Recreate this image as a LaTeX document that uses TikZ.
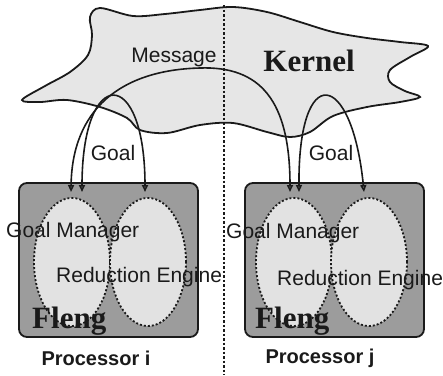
\documentclass[tikz,border=0pt]{standalone}
\usepackage{fontspec}
\setmainfont{Liberation Sans}
\newfontfamily\serifbf{Liberation Serif}
\usetikzlibrary{shapes.geometric, arrows.meta, positioning}
\definecolor{tinta}{HTML}{1A1A1A}
\definecolor{nube}{HTML}{E6E6E6}
\definecolor{caja}{HTML}{9C9C9C}
\definecolor{ovalo}{HTML}{E2E2E2}
\tikzset{
  proc/.style={rectangle, rounded corners=8pt, draw=tinta, line width=1.8pt, fill=caja,
               minimum width=179pt, minimum height=154pt, inner sep=0pt},
  modulo/.style={ellipse, draw=tinta, line width=1.8pt, dash pattern=on 2pt off 2pt,
                 fill=ovalo, minimum width=76pt, minimum height=128pt, inner sep=0pt},
  nubek/.style={draw=tinta, line width=1.8pt, fill=nube},
  sep/.style={draw=tinta, line width=1.5pt, dash pattern=on 2.5pt off 2pt},
  flecha/.style={draw=tinta, line width=1.6pt,
                 {Triangle[open,length=7pt,width=6pt]}-{Triangle[open,length=7pt,width=6pt]}},
  txt/.style={inner sep=0pt, text=tinta, font=\fontsize{21}{25}\selectfont},
  txtb/.style={inner sep=0pt, text=tinta, font=\fontsize{20}{24}\selectfont\bfseries},
  grande/.style={inner sep=0pt, text=tinta, font=\serifbf\bfseries\fontsize{31}{36}\selectfont}
}
\begin{document}
\begin{tikzpicture}[x=1pt, y=-1pt]
  \useasboundingbox (0,0) rectangle (443,375);
  % kernel
  \draw[nubek] plot[smooth cycle, tension=0.55] coordinates {
    (22,100) (45,86) (70,72) (88,55) (92,35) (90,17) (100,8) (133,16) (165,14)
    (200,10) (233,7) (267,12) (300,22) (333,32) (367,38) (400,42) (428,46)
    (410,57) (390,70) (390,82) (405,91) (420,97) (400,102) (367,107) (333,116)
    (310,132) (290,137) (267,132) (233,123) (200,125) (167,133) (140,130)
    (127,118) (100,107) (67,100) (40,102)};
  \draw[sep] (224,5) -- (224,375);
  % processors
  \node (pi) [proc] at (108.5,260) {};
  \node (pj) [proc] at (334.5,260) {};
  \node (gmi) [modulo] at (72,262) {};
  \node (rei) [modulo] at (148,262) {};
  \node (gmj) [modulo] at (294,262) {};
  \node (rej) [modulo] at (369,262) {};
  \coordinate (mi) at (71,192);
  \coordinate (gi) at (82,192);
  \coordinate (ri) at (145,192);
  \coordinate (mj) at (290,192);
  \coordinate (gj) at (299,192);
  \coordinate (rj) at (364,192);
  \draw[flecha] (mi) .. controls (72,110) and (120,70) .. (200,68)
                     .. controls (260,66) and (290,100) .. (mj);
  \draw[flecha] (gi) .. controls (82,65) and (145,65) .. (ri);
  \draw[flecha] (gj) .. controls (298,60) and (352,70) .. (rj);
  % labels
  \node (msg) [txt] at (174,57) {Message};
  \node (ker) [grande] at (309,61) {Kernel};
  \node (goi) [txt] at (113,153) {Goal};
  \node (goj) [txt] at (331,153) {Goal};
  \node (lgmi) [txt, anchor=west] at (6,232) {Goal Manager};
  \node (lgmj) [txt, anchor=west] at (226,233) {Goal Manager};
  \node (lrei) [txt, anchor=west] at (56,277) {Reduction Engine};
  \node (lrej) [txt, anchor=west] at (277,280) {Reduction Engine};
  \node (fli) [grande, anchor=base west] at (32,328) {Fleng};
  \node (flj) [grande, anchor=base west] at (255,328) {Fleng};
  \node (lpi) [txtb] at (96,358) {Processor i};
  \node (lpj) [txtb] at (320,358) {Processor j};
\end{tikzpicture}
\end{document}
